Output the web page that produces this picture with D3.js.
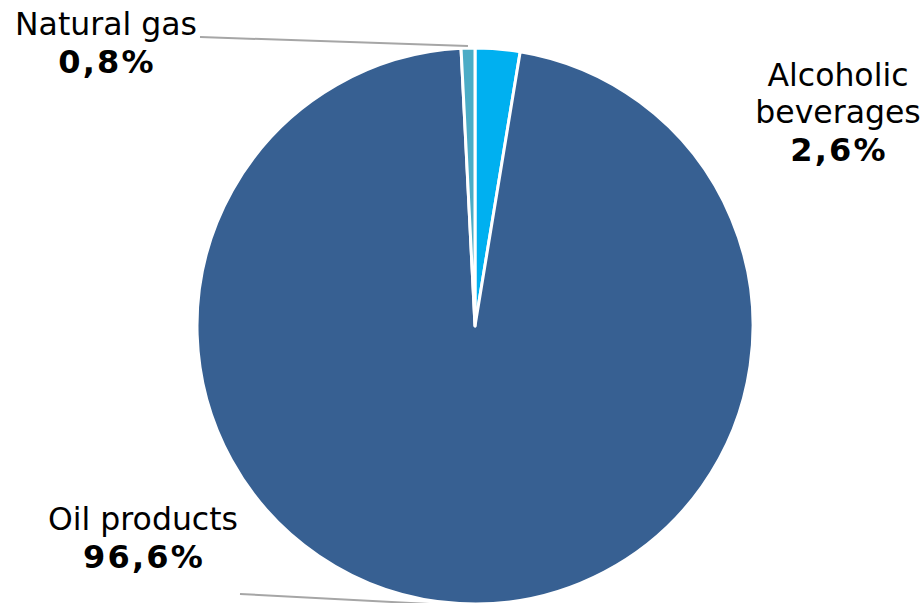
<!DOCTYPE html>
<html><head><meta charset="utf-8">
<script src="https://cdn.jsdelivr.net/npm/d3@7"></script>
<style>body{margin:0;background:#fff;overflow:hidden}svg{display:block}</style>
</head><body>
<svg id="c" width="923" height="603"></svg>
<script>
const categories = ["Alcoholic beverages", "Oil products", "Natural gas"];
const values = [2.6, 96.6, 0.8];
const valueLabels = ["2,6%", "96,6%", "0,8%"];
const colors = ["#00b0f0", "#376092", "#4bacc6"];
const labelLines = [["Alcoholic", "beverages"], ["Oil products"], ["Natural gas"]];

const svg = d3.select("#c");
const cx = 475, cy = 326, r = 278;
const g = svg.append("g").attr("transform", `translate(${cx},${cy})`);
const pie = d3.pie().sort(null).value(d => d.v);
const data = pie(categories.map((c, i) => ({c, v: values[i], i})));
const arc = d3.arc().innerRadius(0).outerRadius(r);

g.selectAll("path").data(data).join("path")
  .attr("d", arc)
  .attr("fill", d => colors[d.data.i])
  .attr("stroke", "#fff").attr("stroke-width", 3).attr("stroke-linejoin", "round");

const labelPos = [
  {x: 838, y: 86, line: null},
  {x: 143, y: 530, line: [240, 594]},
  {x: 106, y: 35, line: [200, 37]}
];
const lh = 37;

data.forEach(d => {
  const p = labelPos[d.data.i];
  if (p.line) {
    const mid = (d.startAngle + d.endAngle) / 2;
    const rr = r + 2;
    const ex = cx + rr * Math.sin(mid), ey = cy - rr * Math.cos(mid);
    svg.append("line").attr("x1", p.line[0]).attr("y1", p.line[1])
      .attr("x2", ex).attr("y2", ey)
      .attr("stroke", "#a6a6a6").attr("stroke-width", 2);
  }
  const t = svg.append("text").attr("text-anchor", "middle")
    .attr("font-family", "DejaVu Sans, Verdana, sans-serif").attr("font-size", 31.5).attr("fill", "#000");
  const lines = labelLines[d.data.i];
  lines.forEach((ln, j) => {
    t.append("tspan").attr("x", p.x).attr("y", p.y + j * lh).text(ln);
  });
  t.append("tspan").attr("x", p.x + 1).attr("y", p.y + lines.length * lh + 1)
    .attr("font-weight", "bold").attr("font-size", 32).attr("letter-spacing", 2.2)
    .text(valueLabels[d.data.i]);
});
</script>
</body></html>
